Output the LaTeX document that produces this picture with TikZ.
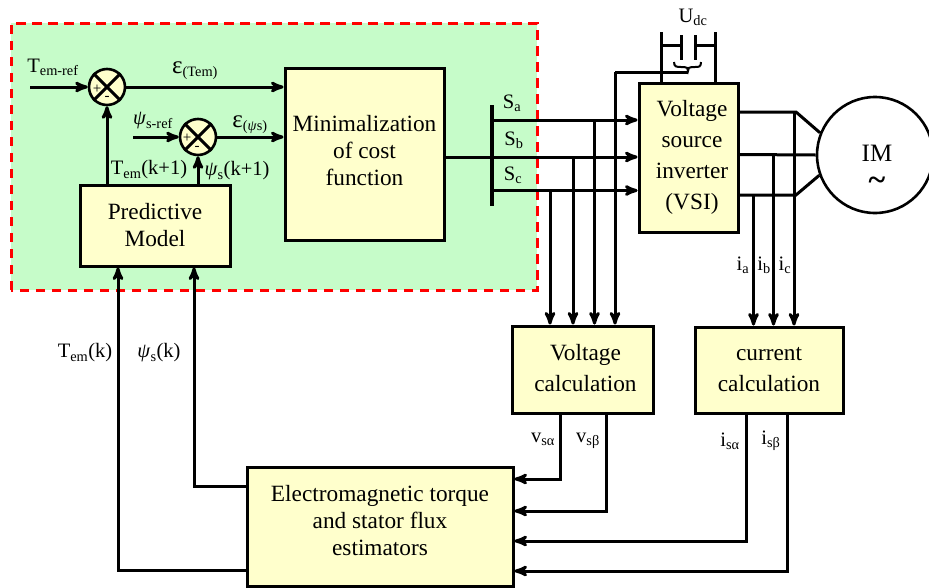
\documentclass[tikz,border=0pt]{standalone}
\usepackage{fontspec}
\setmainfont{Liberation Serif}
\usepackage{tikz}
\usetikzlibrary{arrows}
\definecolor{panelgreen}{HTML}{C6FCC9}
\definecolor{blockyellow}{HTML}{FFFFCC}
\newcommand{\psisym}{\textit{ψ}}
\newcommand{\epssym}{{\fontsize{25}{25}\selectfont ε}}
\tikzset{
  >=stealth',
  wire/.style={line width=3pt},
  block/.style={draw,line width=3pt,fill=blockyellow,align=center,inner sep=0pt,font=\fontsize{23.3}{27}\selectfont},
  sumnode/.style={draw,circle,line width=2.6pt,fill=blockyellow,minimum size=36pt,inner sep=0pt},
  lbl/.style={inner sep=0pt,font=\fontsize{20.5}{24}\selectfont},
  sign/.style={inner sep=0pt,font=\fontsize{15}{15}\selectfont}
}
\begin{document}
\begin{tikzpicture}[x=1pt,y=-1pt]
    \useasboundingbox (0,0) rectangle (929,587);
    \fill[panelgreen] (11,23) rectangle (537,290);
    \draw[red,line width=3pt,dash pattern=on 9.5pt off 6.5pt] (11,290) -- (11,23) -- (537,23) -- (537,290) -- cycle;

    \node[block,minimum width=150pt,minimum height=81pt] (pm) at (155,225.5) {Predictive\\Model};
    \node[block,minimum width=159pt,minimum height=172pt,text depth=8pt] (mc) at (364.5,154) {Minimalization\\of cost\\function};
    \node[block,minimum width=99pt,minimum height=149pt,font=\fontsize{23.3}{31}\selectfont] (vsi) at (688.5,157.5) {\hspace{7pt}Voltage\\\hspace{7pt}source\\\hspace{7pt}inverter\\\hspace{7pt}(VSI)};
    \node[block,minimum width=141pt,minimum height=87pt,text depth=4pt,font=\fontsize{23.3}{31}\selectfont] (vc) at (582.5,369.5) {\hspace{6pt}Voltage\\\hspace{6pt}calculation};
    \node[block,minimum width=148pt,minimum height=86pt,font=\fontsize{23.3}{31}\selectfont] (cc) at (769,370) {current\\calculation};
    \node[block,minimum width=266pt,minimum height=119pt,text depth=12pt] (est) at (380,526.5) {Electromagnetic torque\\and stator flux\\estimators};
    \node[draw,circle,line width=2.6pt,fill=white,minimum size=116pt,inner sep=0pt,font=\fontsize{25}{32}\selectfont] (im) at (875,155) {};
    \node[inner sep=0pt,font=\fontsize{25}{32}\selectfont] (imtext) at (877,153) {IM};
    \node[inner sep=0pt,font=\fontsize{32}{32}\bfseries\selectfont] (imtilde) at (877,184) {\textasciitilde};

    \node[sumnode] (s1) at (107,87) {};
    \node[sumnode] (s2) at (198,137) {};
    \draw[wire] (s1.north west) -- (s1.south east);
    \draw[wire] (s1.north east) -- (s1.south west);
    \draw[wire] (s2.north west) -- (s2.south east);
    \draw[wire] (s2.north east) -- (s2.south west);
    \node[sign] (p1) at (97,89) {+};
    \node[sign] (m1) at (107,98) {-};
    \node[sign] (p2) at (187,138) {+};
    \node[sign] (m2) at (197,148) {-};

    \coordinate (tref) at (30,87);
    \coordinate (pref) at (133,137);
    \coordinate (fbt) at (107,185);
    \coordinate (fbp) at (198,185);
    \draw[wire,->] (tref) -- (s1);
    \draw[wire,->] (pref) -- (s2);
    \draw[wire,->] (s1) -- (s1 -| mc.west);
    \draw[wire,->] (s2) -- (s2 -| mc.west);
    \draw[wire,->] (fbt) -- (s1);
    \draw[wire,->] (fbp) -- (s2);

    \coordinate (bartop) at (492,105);
    \coordinate (barbot) at (492,206);
    \coordinate (sa) at (492,120);
    \coordinate (sb) at (492,157);
    \coordinate (sc) at (492,190.5);
    \draw[line width=4.5pt] (bartop) -- (barbot);
    \draw[wire] (mc.east |- sb) -- (sb);
    \draw[wire,->] (sa) -- (sa -| vsi.west);
    \draw[wire,->] (sb) -- (sb -| vsi.west);
    \draw[wire,->] (sc) -- (sc -| vsi.west);
    \coordinate (ja) at (594.5,120);
    \coordinate (jb) at (573,157);
    \coordinate (jc) at (550,190.5);
    \coordinate (jd) at (615,72);
    \draw[wire,->] (ja) -- (ja |- vc.north);
    \draw[wire,->] (jb) -- (jb |- vc.north);
    \draw[wire,->] (jc) -- (jc |- vc.north);
    \draw[wire,->] (jd) -- (jd |- vc.north);

    \coordinate (capl) at (681,45);
    \coordinate (capr) at (695,45);
    \coordinate (railltop) at (661,32);
    \coordinate (railrtop) at (715,32);
    \coordinate (brace) at (688,72);
    \draw[wire] (railltop) -- (railltop |- vsi.north);
    \draw[wire] (railrtop) -- (railrtop |- vsi.north);
    \draw[wire] (railltop |- capl) -- (capl);
    \draw[wire] (capr) -- (railrtop |- capr);
    \draw[line width=3pt] (681,35) -- (681,60);
    \draw[line width=3pt] (695,35) -- (695,60);
    \draw[line width=2pt] (674,62) .. controls (674,67) and (677,67) .. (681,67) -- (684,67) .. controls (687,67) and (688,68) .. (688,71) .. controls (688,68) and (689,67) .. (692,67) -- (695,67) .. controls (699,67) and (701,67) .. (701,62);
    \draw[wire] (jd) -- (brace);

    \coordinate (oa) at (796,112);
    \coordinate (ob) at (773.5,154.5);
    \coordinate (oc) at (796,195);
    \coordinate (ta) at (794,112);
    \coordinate (tb) at (773.5,154.5);
    \coordinate (tc) at (753.5,195);
    \draw[wire] (oa -| vsi.east) -- (oa) -- (im.158);
    \draw[wire] (ob -| vsi.east) -- (im.west);
    \draw[wire] (oc -| vsi.east) -- (oc) -- (im.200);
    \draw[wire,->] (ta) -- (ta |- cc.north);
    \draw[wire,->] (tb) -- (tb |- cc.north);
    \draw[wire,->] (tc) -- (tc |- cc.north);

    \coordinate (va) at (560,479);
    \coordinate (vb) at (606,511);
    \coordinate (ia) at (746,541);
    \coordinate (ib) at (787,571);
    \draw[wire,->] (va |- vc.south) -- (va) -- (va -| est.east);
    \draw[wire,->] (vb |- vc.south) -- (vb) -- (vb -| est.east);
    \draw[wire,->] (ia |- cc.south) -- (ia) -- (ia -| est.east);
    \draw[wire,->] (ib |- cc.south) -- (ib) -- (ib -| est.east);

    \coordinate (ep) at (194,486);
    \coordinate (et) at (118,570);
    \draw[wire,->] (ep -| est.west) -- (ep) -- (ep |- pm.south);
    \draw[wire,->] (et -| est.west) -- (et) -- (et |- pm.south);

    \node[lbl] (ltref) at (53,67) {T\textsubscript{em-ref}};
    \node[lbl] (lpref) at (153,121) {\psisym\textsubscript{s-ref}};
    \node[lbl] (let) at (195,71) {\epssym\textsubscript{(Tem)}};
    \node[lbl] (lep) at (250,125) {\epssym\textsubscript{(\psisym s)}};
    \node[lbl] (ltk) at (149,170) {T\textsubscript{em}(k+1)};
    \node[lbl] (lpk) at (237,171) {\psisym\textsubscript{s}(k+1)};
    \node[lbl] (lsa) at (512,103) {S\textsubscript{a}};
    \node[lbl] (lsb) at (514,140) {S\textsubscript{b}};
    \node[lbl] (lsc) at (513,175) {S\textsubscript{c}};
    \node[lbl] (ludc) at (693,17) {U\textsubscript{dc}};
    \node[lbl] (lia) at (743,265) {i\textsubscript{a}};
    \node[lbl] (lib) at (764,265) {i\textsubscript{b}};
    \node[lbl] (lic) at (785,265) {i\textsubscript{c}};
    \node[lbl] (ltem) at (85,353) {T\textsubscript{em}(k)};
    \node[lbl] (lpsi) at (159,353) {\psisym\textsubscript{s}(k)};
    \node[lbl] (lva) at (543,439) {v\textsubscript{sα}};
    \node[lbl] (lvb) at (588,441) {v\textsubscript{sβ}};
    \node[lbl] (lia2) at (730,441) {i\textsubscript{sα}};
    \node[lbl] (lib2) at (771,441) {i\textsubscript{sβ}};
  \end{tikzpicture}
\end{document}
